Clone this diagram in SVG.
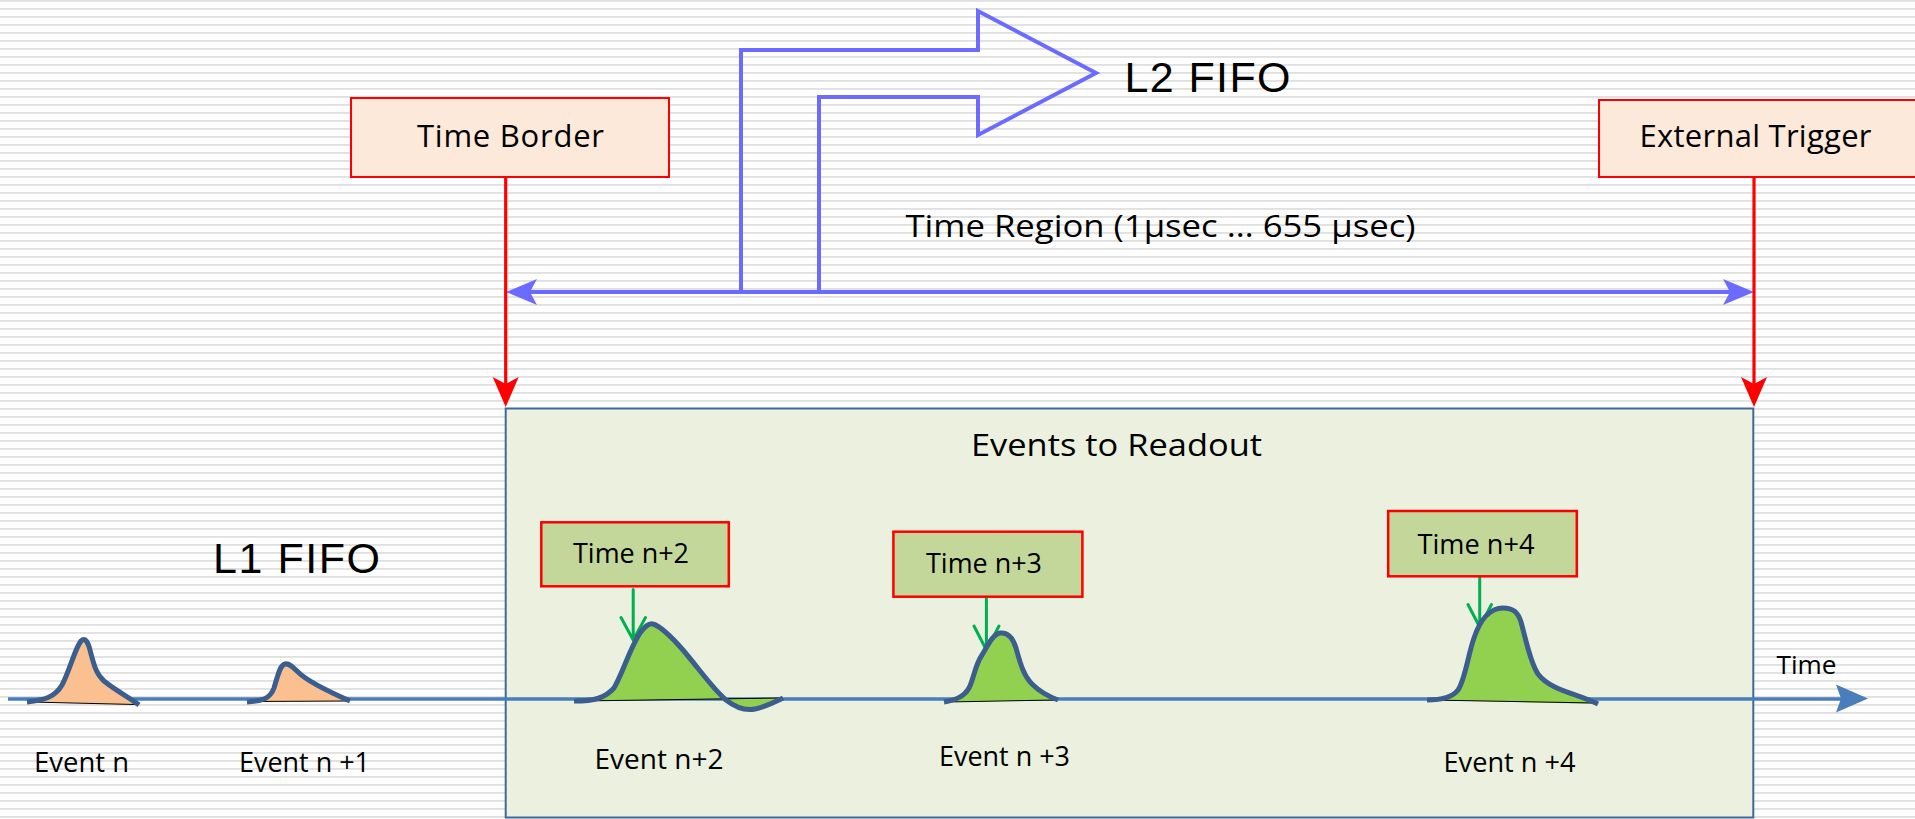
<svg xmlns="http://www.w3.org/2000/svg" width="1915" height="819" viewBox="0 0 1915 819">
  <defs>
    <!-- ruled background -->
    <pattern id="rules" width="8" height="8" patternUnits="userSpaceOnUse">
      <rect x="0" y="0.2" width="8" height="1.5" fill="#d9d9d9"/>
    </pattern>
    <style>
      .lbl { font-family: "Open Sans", Lato, sans-serif; fill: #000; }
      .big { font-family: "Liberation Sans", Arial, sans-serif; font-size: 43px; fill: #000; }
      .note { fill: #fde9d9; stroke: #ff0000; stroke-width: 2; }
      .stamp { fill: #c4d79b; stroke: #ff0000; stroke-width: 2.5; }
      .red { stroke: #ff0000; stroke-width: 3.2; fill: none; }
      .redhead { fill: #ff0000; }
      .violet { stroke: #6b6bff; stroke-width: 4; fill: none; }
      .violethead { fill: #6b6bff; }
      .green { stroke: #00b050; stroke-width: 3; fill: none; stroke-linecap: round; stroke-linejoin: round; }
      .pulse { fill: none; stroke: #3b5e8e; stroke-width: 5; stroke-linecap: butt; stroke-linejoin: round; }
      .base { fill: none; stroke: #000; stroke-width: 1; }
    </style>
  </defs>

  <rect x="0" y="0" width="1915" height="819" fill="#ffffff"/>
  <rect x="0" y="0" width="1915" height="819" fill="url(#rules)"/>

  <!-- readout window -->
  <g id="readout-window">
    <rect x="505.7" y="408.5" width="1247.6" height="409" fill="#ebf1de" stroke="#41689a" stroke-width="2"/>
    <text class="lbl" x="971" y="456" font-size="31.5" textLength="291" lengthAdjust="spacingAndGlyphs">Events to Readout</text>
  </g>

  <g id="time-border">
    <rect class="note" x="351" y="98" width="318" height="79"/>
    <text class="lbl" x="417" y="147.3" font-size="31" textLength="187">Time Border</text>
  </g>

  <g id="external-trigger">
    <rect class="note" x="1599" y="100" width="318" height="77"/>
    <text class="lbl" x="1639.5" y="147.3" font-size="31" textLength="232">External Trigger</text>
  </g>

  <g id="l2-fifo">
    <text class="big" x="1124.5" y="92.3" textLength="166">L2 FIFO</text>
  </g>

  <g id="l1-fifo">
    <text class="big" x="213" y="573.3" textLength="167">L1 FIFO</text>
  </g>

  <g id="time-region">
    <text class="lbl" x="905.5" y="236.7" font-size="30.5" textLength="510" lengthAdjust="spacingAndGlyphs">Time Region (1µsec … 655 µsec)</text>
  </g>

  <!-- connectors -->
  <g id="connectors">
    <!-- L2 FIFO bent arrow -->
    <path class="violet" d="M741,292 V50 H978 V11 L1096,73 L978,135 V97 H819 V292"/>
    <!-- time region span -->
    <line class="violet" x1="520" y1="292" x2="1740" y2="292"/>
    <path class="violethead" d="M506,292 L537,279 L530,292 L537,305 Z"/>
    <path class="violethead" d="M1754,292 L1723,279 L1730,292 L1723,305 Z"/>
    <!-- red markers -->
    <line class="red" x1="505.7" y1="177" x2="505.7" y2="390"/>
    <path class="redhead" d="M505.7,407 L492.7,377 L505.7,384 L518.7,377 Z"/>
    <line class="red" x1="1754" y1="177" x2="1754" y2="390"/>
    <path class="redhead" d="M1754,407 L1741,377 L1754,384 L1767,377 Z"/>
    <!-- time axis -->
    <line x1="8" y1="699" x2="1845" y2="699" stroke="#4a7ebb" stroke-width="3.3"/>
    <path d="M1868,698.5 L1836,684.5 L1841,698.5 L1836,712.5 Z" fill="#4a7ebb"/>
    <!-- timestamp pointers -->
    <path class="green" d="M633.2,589.5 V639 M621,617.5 L633.2,640 L645.5,617.5"/>
    <path class="green" d="M986.4,598 V649 M974,626 L986.4,650 L999,626"/>
    <path class="green" d="M1479.7,577.5 V626 M1468,604.5 L1479.7,627 L1491.5,604.5"/>
  </g>

  <g id="time-axis-label">
    <text class="lbl" x="1776.5" y="674.3" font-size="26" textLength="60" lengthAdjust="spacingAndGlyphs">Time</text>
  </g>

  <!-- pulses -->
  <g id="event-n">
    <path d="M27,702 C45,700 55,697 62,685 C70,670 75,648 81,641 C85,637 88,642 90,650 C94,665 96,674 104,681 C115,690 130,698 139,705 Z" fill="#fac090"/>
    <line class="base" x1="30" y1="702" x2="136" y2="704.5"/>
    <path class="pulse" d="M27,702 C45,700 55,697 62,685 C70,670 75,648 81,641 C85,637 88,642 90,650 C94,665 96,674 104,681 C115,690 130,698 139,705"/>
    <text class="lbl" x="34" y="772.3" font-size="27" textLength="95" lengthAdjust="spacingAndGlyphs">Event n</text>
  </g>

  <g id="event-n1">
    <path d="M247,702 C262,701 270,699 274,688 C278,675 280,665 285,664 C289,663 293,667 298,672 C306,680 325,690 350,701 Z" fill="#fac090"/>
    <line class="base" x1="250" y1="701.5" x2="347" y2="701"/>
    <path class="pulse" d="M247,702 C262,701 270,699 274,688 C278,675 280,665 285,664 C289,663 293,667 298,672 C306,680 325,690 350,701"/>
    <text class="lbl" x="239" y="772.3" font-size="27" textLength="131" lengthAdjust="spacingAndGlyphs">Event n +1</text>
  </g>

  <g id="event-n2">
    <path d="M574,701 C595,701 605,698 614,688 C622,675 630,648 640,633 C645,626 650,623 653,624 C660,626 668,633 683,650 C700,670 712,688 726,700 C735,707 745,711 755,709 C765,707 775,702 783,698 Z" fill="#92d050"/>
    <line class="base" x1="580" y1="701" x2="780" y2="698"/>
    <path class="pulse" d="M574,701 C595,701 605,698 614,688 C622,675 630,648 640,633 C645,626 650,623 653,624 C660,626 668,633 683,650 C700,670 712,688 726,700 C735,707 745,711 755,709 C765,707 775,702 783,698"/>
    <text class="lbl" x="594.5" y="769.3" font-size="27" textLength="129" lengthAdjust="spacingAndGlyphs">Event n+2</text>
  </g>

  <g id="event-n3">
    <path d="M944,702 C955,700 964,697 969,688 C974,678 975,665 982,655 C988,645 993,634 1000,633 C1008,632 1013,638 1016,648 C1020,662 1023,675 1032,684 C1040,692 1050,697 1058,700 Z" fill="#92d050"/>
    <line class="base" x1="946" y1="702" x2="1055" y2="700"/>
    <path class="pulse" d="M944,702 C955,700 964,697 969,688 C974,678 975,665 982,655 C988,645 993,634 1000,633 C1008,632 1013,638 1016,648 C1020,662 1023,675 1032,684 C1040,692 1050,697 1058,700"/>
    <text class="lbl" x="939" y="766" font-size="27" textLength="131" lengthAdjust="spacingAndGlyphs">Event n +3</text>
  </g>

  <g id="event-n4">
    <path d="M1427,700 C1440,700 1452,698 1458,690 C1465,680 1468,655 1474,638 C1480,620 1490,608 1503,608 C1513,608 1518,612 1521,622 C1526,640 1530,662 1538,674 C1550,690 1575,693 1598,704 Z" fill="#92d050"/>
    <line class="base" x1="1430" y1="700" x2="1595" y2="703"/>
    <path class="pulse" d="M1427,700 C1440,700 1452,698 1458,690 C1465,680 1468,655 1474,638 C1480,620 1490,608 1503,608 C1513,608 1518,612 1521,622 C1526,640 1530,662 1538,674 C1550,690 1575,693 1598,704"/>
    <text class="lbl" x="1443.5" y="771.7" font-size="27" textLength="132" lengthAdjust="spacingAndGlyphs">Event n +4</text>
  </g>

  <!-- timestamps -->
  <g id="time-n2">
    <rect class="stamp" x="541.3" y="522.3" width="187.5" height="64"/>
    <text class="lbl" x="573" y="563.3" font-size="28" textLength="116" lengthAdjust="spacingAndGlyphs">Time n+2</text>
  </g>
  <g id="time-n3">
    <rect class="stamp" x="893.4" y="531.7" width="189" height="65"/>
    <text class="lbl" x="926" y="573.3" font-size="28" textLength="116" lengthAdjust="spacingAndGlyphs">Time n+3</text>
  </g>
  <g id="time-n4">
    <rect class="stamp" x="1388.2" y="511" width="188.6" height="65.3"/>
    <text class="lbl" x="1417.5" y="554" font-size="28" textLength="117" lengthAdjust="spacingAndGlyphs">Time n+4</text>
  </g>
</svg>
